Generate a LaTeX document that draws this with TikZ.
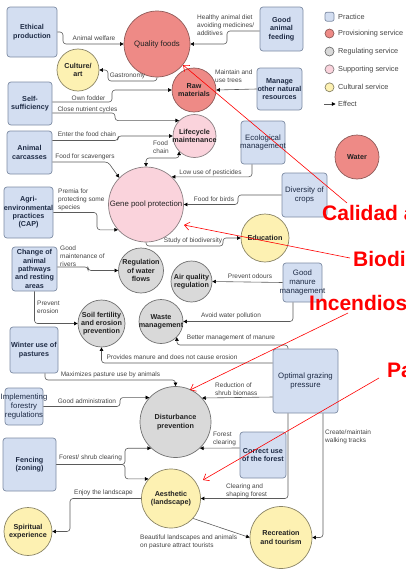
\documentclass[tikz,border=0pt]{standalone}
\usepackage{fontspec}
\setmainfont{Liberation Sans}
\usetikzlibrary{arrows.meta}
\definecolor{pfill}{HTML}{D3DEF1}
\definecolor{pdraw}{HTML}{7D8BA3}
\definecolor{provfill}{HTML}{EE8A86}
\definecolor{provdraw}{HTML}{8E5A58}
\definecolor{regfill}{HTML}{D9D9D9}
\definecolor{regdraw}{HTML}{707070}
\definecolor{supfill}{HTML}{FAD3DC}
\definecolor{supdraw}{HTML}{8A7F82}
\definecolor{culfill}{HTML}{FDF1B2}
\definecolor{culdraw}{HTML}{8A8466}
\definecolor{linec}{HTML}{5A5A5A}
\definecolor{labc}{HTML}{444444}
\definecolor{boxtext}{HTML}{1E2B45}
\definecolor{svctext}{HTML}{222222}
\newcommand\myNF{\fontsize{7.2}{8.3}\selectfont}
\newcommand\myWF{\fontsize{7.8}{8.6}\selectfont}
\newcommand\myLF{\fontsize{6.5}{7.8}\selectfont}
\newcommand\myGF{\fontsize{7.3}{8.5}\selectfont}
\newcommand\myRF{\fontsize{21}{24}\selectfont\bfseries}
\newcommand\ovl[1]{\makebox[0pt]{#1}}
\begin{document}
\begin{tikzpicture}[x=1pt,y=-1pt,
  >={Triangle[length=3.6pt,width=3.6pt,color=black]},
  practice/.style={draw=pdraw, fill=pfill, rounded corners=3pt, line width=0.7pt, align=center, font=\myNF\bfseries, text=boxtext, inner sep=0pt},
  svc/.style={circle, inner sep=0pt, line width=0.7pt, align=center, font=\myNF\bfseries, text=svctext},
  prov/.style={svc, draw=provdraw, fill=provfill},
  regs/.style={svc, draw=regdraw, fill=regfill},
  sups/.style={svc, draw=supdraw, fill=supfill},
  culs/.style={svc, draw=culdraw, fill=culfill},
  regw/.style={font=\myWF},
  lab/.style={font=\myLF, text=labc, inner sep=0pt, align=left},
  conn/.style={draw=linec, line width=0.6pt, rounded corners=3pt, ->},
  redarr/.style={draw=red, line width=0.6pt, -{Straight Barb[length=5pt,width=8pt]}},
  redtxt/.style={font=\myRF, text=red, inner sep=0pt, anchor=base west},
  legtxt/.style={font=\myGF, text=labc, inner sep=0pt, anchor=west}]
\useasboundingbox (0,0) rectangle (406,570);

% practices
\node[practice, minimum width=50pt, minimum height=50pt] (eth) at (32,32) {\ovl{Ethical}\\\ovl{production}};
\node[practice, minimum width=43pt, minimum height=44pt] (gaf) at (281.5,29) {\ovl{Good}\\\ovl{animal}\\\ovl{feeding}};
\node[practice, minimum width=44pt, minimum height=43pt] (ss) at (30,103.5) {\ovl{Self-}\\\ovl{sufficiency}};
\node[practice, minimum width=45pt, minimum height=42pt] (mon) at (279.5,89) {\ovl{Manage}\\\ovl{other natural}\\\ovl{resources}};
\node[practice, regw, minimum width=44pt, minimum height=43pt] (eco) at (263,142.5) {\ovl{Ecological}\\\ovl{management}};
\node[practice, minimum width=45pt, minimum height=43pt] (ac) at (29.5,152.5) {\ovl{Animal}\\\ovl{carcasses}};
\node[practice, minimum width=49pt, minimum height=51pt] (agri) at (28.5,212.5) {\ovl{Agri-}\\\ovl{environmental}\\\ovl{practices}\\\ovl{(CAP)}};
\node[practice, regw, minimum width=45pt, minimum height=44pt] (doc) at (304.5,195) {\ovl{Diversity of}\\\ovl{crops}};
\node[practice, minimum width=45pt, minimum height=44pt] (cap) at (34.5,269) {\ovl{Change of}\\\ovl{animal}\\\ovl{pathways}\\\ovl{and resting}\\\ovl{areas}};
\node[practice, regw, minimum width=39pt, minimum height=39pt] (gmm) at (302.5,282.5) {\ovl{Good}\\\ovl{manure}\\\ovl{management}};
\node[practice, minimum width=48pt, minimum height=46pt] (wup) at (34,350) {\ovl{Winter use of}\\\ovl{pastures}};
\node[practice, regw, minimum width=65pt, minimum height=64pt] (ogp) at (305.5,381) {\ovl{Optimal grazing}\\\ovl{pressure}};
\node[practice, regw, minimum width=38pt, minimum height=37pt] (ifr) at (24,406.5) {\ovl{Implementing}\\\ovl{forestry}\\\ovl{regulations}};
\node[practice, minimum width=53pt, minimum height=53pt] (fen) at (29.5,464.5) {\ovl{Fencing}\\\ovl{(zoning)}};
\node[practice, minimum width=46pt, minimum height=46pt] (cuf) at (263,455) {\ovl{Correct use}\\\ovl{of the forest}};

% services
\node[prov, regw, minimum size=66pt] (Q) at (157,44) {\ovl{Quality foods}};
\node[culs, minimum size=42pt] (cult) at (78,70) {\ovl{Culture/}\\\ovl{art}};
\node[prov, minimum size=44pt] (R) at (194,90) {\ovl{Raw}\\\ovl{materials}};
\node[sups, minimum size=43pt] (L) at (194.5,136) {\ovl{Lifecycle}\\\ovl{maintenance}};
\node[sups, regw, minimum size=75pt] (G) at (146,204.5) {\ovl{Gene pool protection}};
\node[culs, minimum size=48pt] (E) at (265,238) {\ovl{Education}};
\node[prov, minimum size=44pt] (Wat) at (357,157) {\ovl{Water}};
\node[regs, minimum size=45pt] (W) at (141,270.5) {\ovl{Regulation}\\\ovl{of water}\\\ovl{flows}};
\node[regs, minimum size=41pt] (A) at (191.5,281.5) {\ovl{Air quality}\\\ovl{regulation}};
\node[regs, minimum size=44pt] (Wm) at (161,321.5) {\ovl{Waste}\\\ovl{management}};
\node[regs, minimum size=47pt] (S) at (101.5,323.5) {\ovl{Soil fertility}\\\ovl{and erosion}\\\ovl{prevention}};
\node[regs, minimum size=71pt] (D) at (175.5,422) {\ovl{Disturbance}\\\ovl{prevention}};
\node[culs, minimum size=59pt] (Ae) at (171,498.5) {\ovl{Aesthetic}\\\ovl{(landscape)}};
\node[culs, minimum size=48pt] (Sp) at (28,531.5) {\ovl{Spiritual}\\\ovl{experience}};
\node[culs, minimum size=62pt] (Rt) at (281,537.5) {\ovl{Recreation}\\\ovl{and tourism}};

% connectors
\draw[conn] (eth.east) -- (63,32) |- (Q.west);
\draw[conn] ([yshift=-2pt]gaf.west) -- (227,31) |- (Q.east);
\draw[conn] (Q.south) |- (108,81) |- (cult.east);
\draw[conn] ([yshift=1.5pt]ss.east) -- (112,102) |- (R.west);
\draw[conn] ([yshift=-9.5pt]ss.east) -- (115,113) |- (L.135);
\draw[conn] (mon.west) -- (R.east);
\draw[conn] ([yshift=12pt]ac.east) -- (118,140.5) |- (L.west);
\draw[conn] ([yshift=-9.5pt]ac.east) -- (108,162) -- (G.135);
\draw[conn] (agri.east) -- (97,212.5) |- (G.222);
\draw[conn,<->] (L.225) |- (146,158) -- (G.north);
\draw[conn] ([xshift=-11pt]eco.south) |- (G.47);
\draw[conn] (doc.west) -- (238,195) |- (G.east);
\draw[conn] (G.south) |- (223,246) |- (E.west);
\draw[conn] ([yshift=2pt]cap.east) -- (88,267) |- (W.west);
\draw[conn] (cap.south) |- (S.west);
\draw[conn] (gmm.west) -- (A.east);
\draw[conn] ([xshift=-9.5pt]gmm.south) |- (Wm.east);
\draw[conn] ([xshift=-17.5pt]ogp.north) |- (177,345) -- (Wm.-45);
\draw[conn] ([yshift=18pt]ogp.west) -| (S.south);
\draw[conn] ([xshift=11pt]wup.south) |- (175.5,380) -- (D.north);
\draw[conn] (ifr.east) -- (120,406.5) |- (D.137);
\draw[conn] ([yshift=-16pt]ogp.west) -- (D.42);
\draw[conn] ([yshift=7pt]cuf.west) -- (D.-47);
\draw[conn] (fen.east) -- (125,464.5) |- (D.227);
\draw[conn] (fen.east) -- (125,464.5) |- (Ae.139);
\draw[conn] ([xshift=-17.5pt]ogp.south) |- (Ae.east);
\draw[conn] ([xshift=17.5pt]ogp.south) |- (Rt.east);
\draw[conn] (Ae.-42) -- (Rt.west);
\draw[conn] (Ae.west) -- (70,498.5) |- (Sp.east);

% labels
\node[lab] (l1) at (94,38.5) {Animal welfare};
\node[lab, anchor=west] (l2) at (197,25) {Healthy animal diet\\avoiding medicines/\\additives};
\node[lab] (l3) at (127.5,75.5) {Gastronomy};
\node[lab] (l4) at (88.5,98) {Own fodder};
\node[lab] (l5) at (87.5,109.5) {Close nutrient cycles};
\node[lab, anchor=west] (l6) at (215,76) {Maintain and\\use trees};
\node[lab] (l7) at (87,134) {Enter the food chain};
\node[lab] (l8) at (85,157) {Food for scavengers};
\node[lab, anchor=west] (l9) at (58,200) {Premia for\\protecting some\\species};
\node[lab, anchor=west] (l10) at (153,147) {Food\\chain};
\node[lab] (l11) at (210.5,173) {Low use of pesticides};
\node[lab] (l12) at (214,199.5) {Food for birds};
\node[lab] (l13) at (193,240.5) {Study of biodiversity};
\node[lab, anchor=west] (l14) at (60,256) {Good\\maintenance of\\rivers};
\node[lab, anchor=west] (l15) at (37,307) {Prevent\\erosion};
\node[lab] (l16) at (250,276.5) {Prevent odours};
\node[lab] (l17) at (231,315.5) {Avoid water pollution};
\node[lab] (l18) at (231,337.5) {Better management of manure};
\node[lab] (l19) at (172,357.5) {Provides manure and does not cause erosion};
\node[lab] (l20) at (110.5,374.5) {Maximizes pasture use by animals};
\node[lab] (l21) at (87,401) {Good administration};
\node[lab, anchor=west] (l22) at (215,389.5) {Reduction of\\shrub biomass};
\node[lab, anchor=west] (l23) at (213,439) {Forest\\clearing};
\node[lab] (l24) at (90.5,457.5) {Forest/ shrub clearing};
\node[lab, anchor=west] (l25) at (226,490.5) {Clearing and\\shaping forest};
\node[lab, anchor=west] (l26) at (325,437) {Create/maintain\\walking tracks};
\node[lab] (l27) at (103.5,493) {Enjoy the landscape};
\node[lab, anchor=west] (l28) at (140,542) {Beautiful landscapes and animals\\on pasture attract tourists};

% legend
\node[practice, minimum size=9pt, rounded corners=2pt] (lg1) at (329.5,16.7) {};
\node[prov, minimum size=9pt] (lg2) at (329.5,33.5) {};
\node[regs, minimum size=9pt] (lg3) at (329.5,51.5) {};
\node[sups, minimum size=9pt] (lg4) at (329.5,69.3) {};
\node[culs, minimum size=9pt] (lg5) at (329.5,87.3) {};
\coordinate (lga) at (324,104);
\coordinate (lgb) at (335.5,104);
\draw[conn] (lga) -- (lgb);
\node[legtxt] (lt1) at (338,16.7) {Practice};
\node[legtxt] (lt2) at (338,33.5) {Provisioning service};
\node[legtxt] (lt3) at (338,51.5) {Regulating service};
\node[legtxt] (lt4) at (338,69.3) {Supporting service};
\node[legtxt] (lt5) at (338,87.3) {Cultural service};
\node[legtxt] (lt6) at (338,104) {Effect};

% red annotations
\node[redtxt] (r1) at (322,220) {Calidad a};
\node[redtxt] (r2) at (353,266.5) {Biodi};
\node[redtxt] (r3) at (309,310) {Incendios};
\node[redtxt] (r4) at (387,377.5) {Pa};
\coordinate (r1s) at (347,203);
\coordinate (r1e) at (183,65);
\coordinate (r2s) at (350,258);
\coordinate (r2e) at (184,225);
\coordinate (r3s) at (348,313);
\coordinate (r3e) at (190,390);
\coordinate (r4s) at (379,378);
\coordinate (r4e) at (203,480);
\draw[redarr] (r1s) -- (r1e);
\draw[redarr] (r2s) -- (r2e);
\draw[redarr] (r3s) -- (r3e);
\draw[redarr] (r4s) -- (r4e);
\end{tikzpicture}
\end{document}
